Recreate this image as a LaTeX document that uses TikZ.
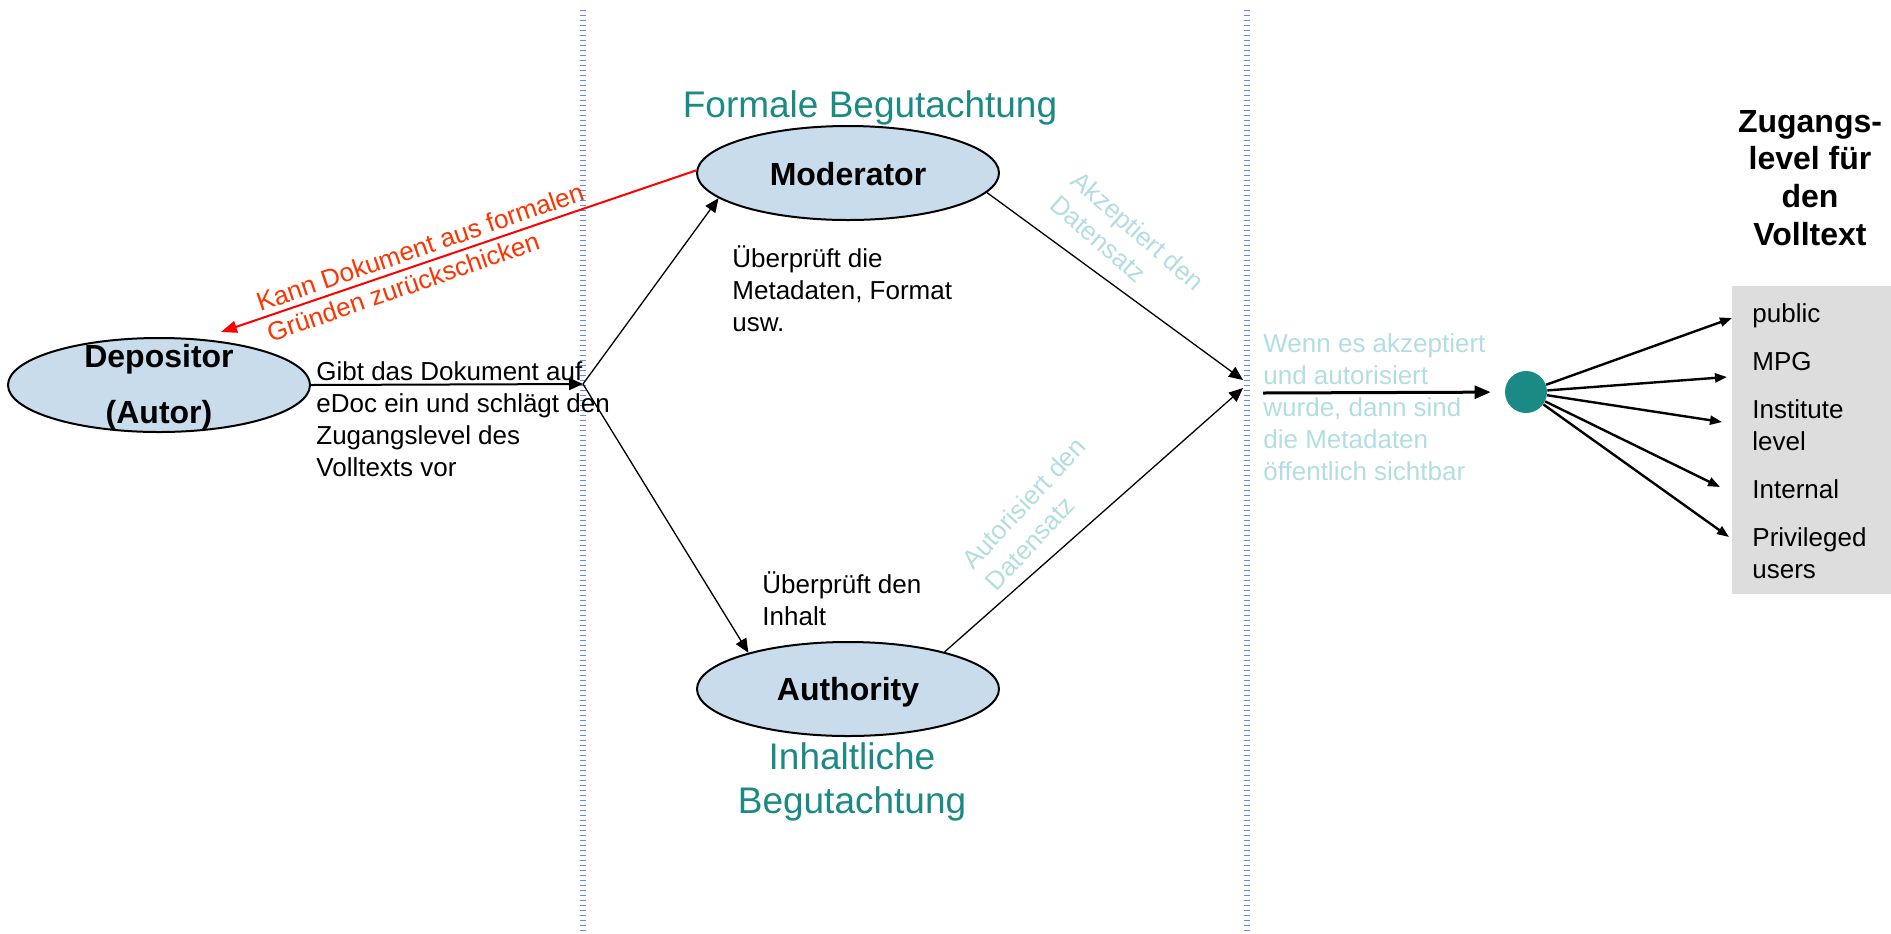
\documentclass[tikz,border=0pt]{standalone}
\usepackage{fontspec}
\setmainfont{Liberation Sans}
\usetikzlibrary{arrows.meta,shapes.geometric}
\definecolor{ellfill}{RGB}{201,220,235}
\definecolor{tealc}{RGB}{27,138,133}
\definecolor{lcyan}{RGB}{178,221,226}
\definecolor{redtxt}{RGB}{255,51,0}
\definecolor{boxgray}{RGB}{221,221,221}
\definecolor{sepblue}{RGB}{105,130,255}
\newcommand{\LL}[1]{\vtop{\halign{##\hfil\cr#1\crcr}}}
\newcommand{\CL}[1]{\vtop{\halign{\hfil##\hfil\cr#1\crcr}}}
\begin{document}
\begin{tikzpicture}[x=0.5pt,y=-0.5pt,
  role/.style={ellipse, draw=black, line width=1pt, fill=ellfill, minimum width=151pt, minimum height=47pt, inner sep=0pt},
  rolelabel/.style={font=\fontsize{16}{28}\selectfont\bfseries, inner sep=0pt, anchor=base},
  body/.style={font=\fontsize{13}{16}\selectfont, inner sep=0pt, anchor=base west},
  head/.style={font=\fontsize{18.5}{22}\selectfont, text=tealc, inner sep=0pt, anchor=base},
  titlef/.style={font=\fontsize{16}{18.9}\selectfont\bfseries, inner sep=0pt, anchor=base},
  sepline/.style={draw=sepblue, line width=3pt, dash pattern=on 0.6pt off 1.9pt},
  arr/.style={-{Triangle[length=7pt,width=6pt]}, line width=0.65pt},
  redarr/.style={-{Triangle[length=8pt,width=6pt]}, line width=1pt, draw=red},
  bigarr/.style={-{Triangle[length=8pt,width=6.5pt]}, line width=1.5pt},
  fanarr/.style={-{Triangle[length=6pt,width=4.5pt]}, line width=1.2pt},
  dotn/.style={circle, fill=tealc, minimum size=21pt, inner sep=0pt}
]
\useasboundingbox (0,0) rectangle (1891,933);

% separators
\draw[sepline] (583,10) -- (583,933);
\draw[sepline] (1247,10) -- (1247,933);

% gray box
\fill[boxgray] (1732,286) rectangle (1891,594);

% roles
\node[role] (dep) at (159,385) {};
\node[rolelabel] (depl) at (159,367) {\CL{Depositor\cr(Autor)}};
\node[role] (mod) at (848,173) {};
\node[rolelabel] (modl) at (848,185) {Moderator};
\node[role] (auth) at (848,689) {};
\node[rolelabel] (authl) at (848,700) {Authority};

% headings
\node[head] (formal) at (870,117) {Formale Begutachtung};
\node[head] (inhalt) at (852,769) {\CL{Inhaltliche\cr Begutachtung}};
\node[titlef] (title) at (1810,132) {\CL{Zugangs-\cr level für\cr den\cr Volltext}};

% texts
\node[body] (gibt) at (316,380) {\LL{Gibt das Dokument auf\cr eDoc ein und schlägt den\cr Zugangslevel des\cr Volltexts vor}};
\node[body] (pruef1) at (732,267) {\LL{Überprüft die\cr Metadaten, Format\cr usw.}};
\node[body] (pruef2) at (762,593) {\LL{Überprüft den\cr Inhalt}};
\node[body, text=lcyan] (wenn) at (1263,352) {\LL{Wenn es akzeptiert\cr und autorisiert\cr wurde, dann sind\cr die Metadaten\cr öffentlich sichtbar}};
\node[body, text=redtxt, rotate=19] (kann) at (260,312) {\LL{Kann Dokument aus formalen\cr Gründen zurückschicken}};
\node[body, text=lcyan, rotate=-41] (akz) at (1069,183) {\LL{Akzeptiert den\cr Datensatz}};
\node[body, text=lcyan, rotate=47] (aut) at (973,571) {\LL{Autorisiert den\cr Datensatz}};

% list
\node[body] (lpub) at (1752,322) {public};
\node[body] (lmpg) at (1752,370) {MPG};
\node[body] (linst) at (1752,418) {\LL{Institute\cr level}};
\node[body] (lint) at (1752,498) {Internal};
\node[body] (lpriv) at (1752,546) {\LL{Privileged\cr users}};

% coordinates
\coordinate (j1) at (583,384);
\coordinate (j2a) at (1243,380);
\coordinate (j2b) at (1243,388);
\coordinate (redtip) at (221,332);
\coordinate (pubsrc) at (1263,393);
\node[dotn] (dot) at (1526,392) {};
\coordinate (t1) at (1732,318);
\coordinate (t2) at (1727,377);
\coordinate (t3) at (1722,422);
\coordinate (t4) at (1720,487);
\coordinate (t5) at (1729,537);

% connectors
\draw[arr, line width=1pt] (dep.east) -- (j1);
\draw[arr] (j1) -- (mod.191);
\draw[arr] (j1) -- (auth.160);
\draw[arr] (mod.-8) -- (j2a);
\draw[arr] (auth.21) -- (j2b);
\draw[redarr] (mod.179) -- (redtip);
\draw[bigarr, shorten >=7pt] (pubsrc) -- (dot);
\foreach \t in {t1,t2,t3,t4,t5} \draw[fanarr] (dot) -- (\t);
\end{tikzpicture}
\end{document}
